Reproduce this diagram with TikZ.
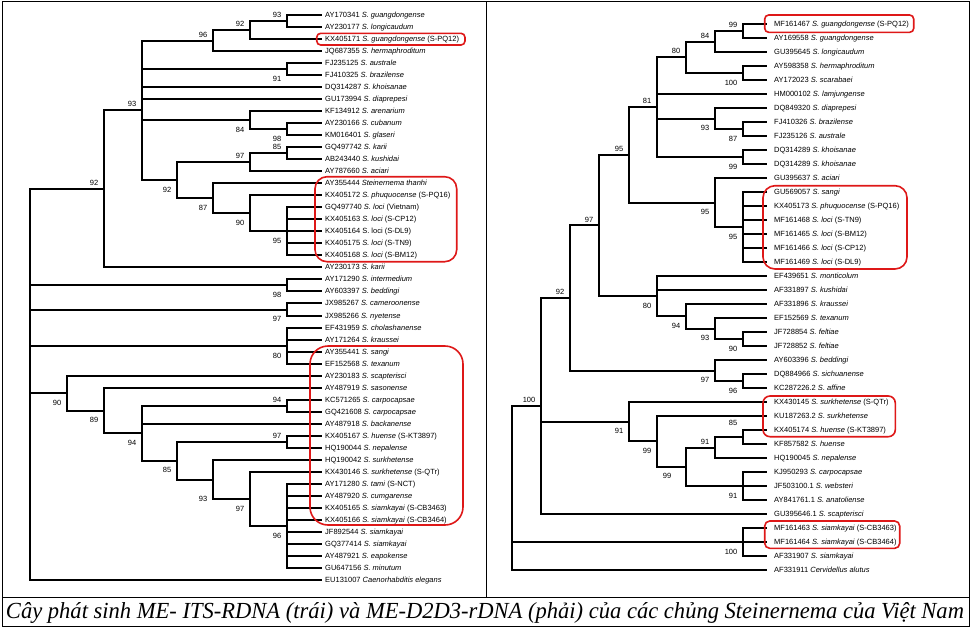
\documentclass[tikz,border=0pt]{standalone}
\usepackage{fontspec}
\setmainfont{Liberation Sans}
\newfontfamily\capfont{Liberation Serif}
\usepackage{graphicx}
\definecolor{hlred}{RGB}{222,24,24}
\begin{document}
\begin{tikzpicture}[x=1pt,y=-1pt]
\tikzset{
  br/.style={line width=2pt},
  tiplab/.style={anchor=base west, inner sep=0pt, font=\fontsize{7.5}{8}\selectfont, yshift=-2.7pt},
  bsa/.style={anchor=south east, inner sep=0pt, font=\fontsize{7.5}{8}\selectfont, xshift=-5.5pt, yshift=3pt},
  bsb/.style={anchor=north east, inner sep=0pt, font=\fontsize{7.5}{8}\selectfont, xshift=-5.5pt, yshift=-6.8pt},
  hl/.style={draw=hlred, line width=1.6pt, rounded corners=#1},
  hl/.default=5pt,
  framel/.style={line width=0.8pt}
}
\useasboundingbox (0,0) rectangle (973,630);
% frame
\draw[framel] (2.5,1.5) rectangle (969.5,626.5);
\draw[framel] (486.5,1.5) -- (486.5,597);
\draw[framel] (2.5,597) -- (969.5,597);

%% ---------------- LEFT TREE ----------------
\foreach \i in {1,...,48} \coordinate (L\i) at (322,{round(15+(\i-1)*12.02)});
\coordinate (LR) at (30,384.3);
\coordinate (LA) at (104,188.6);
\coordinate (LB) at (142,110.25);
\coordinate (LC) at (213,40.5);
\coordinate (LD) at (250,30);
\coordinate (LE) at (287,21);
\coordinate (LF) at (287,69);
\coordinate (LG) at (250,120);
\coordinate (LH) at (287,129);
\coordinate (LI) at (177,180);
\coordinate (LJ) at (250,162);
\coordinate (LK) at (287,153);
\coordinate (LL) at (213,198);
\coordinate (LM) at (250,213);
\coordinate (LN) at (287,231);
\coordinate (LO) at (287,285);
\coordinate (LP) at (287,309.5);
\coordinate (LQ) at (287,346);
\coordinate (LS) at (67,393.35);
\coordinate (LT) at (104,410.7);
\coordinate (LU) at (142,433.4);
\coordinate (LV) at (287,406);
\coordinate (LW) at (177,460.75);
\coordinate (LX) at (287,442);
\coordinate (LY) at (213,479.5);
\coordinate (LZ) at (250,499);
\coordinate (LZZ) at (287,526);
\foreach \p/\c in {LR/LA,LR/LO,LR/LP,LR/LQ,LR/LS,LR/L48,
  LA/LB,LA/L22,
  LB/LC,LB/LF,LB/L7,LB/L8,LB/LG,LB/LI,
  LC/LD,LC/L4,LD/LE,LD/L3,LE/L1,LE/L2,LF/L5,LF/L6,
  LG/L9,LG/LH,LH/L10,LH/L11,
  LI/LJ,LI/LL,LJ/LK,LJ/L14,LK/L12,LK/L13,
  LL/L15,LL/LM,LM/L16,LM/LN,LN/L17,LN/L18,LN/L19,LN/L20,LN/L21,
  LO/L23,LO/L24,LP/L25,LP/L26,LQ/L27,LQ/L28,LQ/L29,LQ/L30,
  LS/L31,LS/LT,LT/L32,LT/LU,LU/LV,LU/L35,LU/LW,LV/L33,LV/L34,
  LW/LX,LW/LY,LX/L36,LX/L37,LY/L38,LY/LZ,LZ/L39,LZ/LZZ,
  LZZ/L40,LZZ/L41,LZZ/L42,LZZ/L43,LZZ/L44,LZZ/L45,LZZ/L46,LZZ/L47}
  \draw[br] (\p) |- (\c);
\foreach \i/\t in {
 1/{AY170341 \textit{S. guangdongense}},
 2/{AY230177 \textit{S. longicaudum}},
 3/{KX405171 \textit{S. guangdongense} (S-PQ12)},
 4/{JQ687355 \textit{S. hermaphroditum}},
 5/{FJ235125 \textit{S. australe}},
 6/{FJ410325 \textit{S. brazilense}},
 7/{DQ314287 \textit{S. khoisanae}},
 8/{GU173994 \textit{S. diaprepesi}},
 9/{KF134912 \textit{S. arenarium}},
 10/{AY230166 \textit{S. cubanum}},
 11/{KM016401 \textit{S. glaseri}},
 12/{GQ497742 \textit{S. karii}},
 13/{AB243440 \textit{S. kushidai}},
 14/{AY787660 \textit{S. aciari}},
 15/{AY355444 \textit{Steinernema thanhi}},
 16/{KX405172 \textit{S. phuquocense} (S-PQ16)},
 17/{GQ497740 \textit{S. loci} (Vietnam)},
 18/{KX405163 \textit{S. loci} (S-CP12)},
 19/{KX405164 S. loci (S-DL9)},
 20/{KX405175 \textit{S. loci} (S-TN9)},
 21/{KX405168 \textit{S. loci} (S-BM12)},
 22/{AY230173 \textit{S. karii}},
 23/{AY171290 \textit{S. intermedium}},
 24/{AY603397 \textit{S. beddingi}},
 25/{JX985267 \textit{S. cameroonense}},
 26/{JX985266 \textit{S. nyetense}},
 27/{EF431959 \textit{S. cholashanense}},
 28/{AY171264 \textit{S. kraussei}},
 29/{AY355441 \textit{S. sangi}},
 30/{EF152568 \textit{S. texanum}},
 31/{AY230183 \textit{S. scapterisci}},
 32/{AY487919 \textit{S. sasonense}},
 33/{KC571265 \textit{S. carpocapsae}},
 34/{GQ421608 \textit{S. carpocapsae}},
 35/{AY487918 \textit{S. backanense}},
 36/{KX405167 \textit{S. huense} (S-KT3897)},
 37/{HQ190044 \textit{S. nepalense}},
 38/{HQ190042 \textit{S. surkhetense}},
 39/{KX430146 \textit{S. surkhetense} (S-QTr)},
 40/{AY171280 \textit{S. tami} (S-NCT)},
 41/{AY487920 \textit{S. cumgarense}},
 42/{KX405165 \textit{S. siamkayai} (S-CB3463)},
 43/{KX405166 \textit{S. siamkayai} (S-CB3464)},
 44/{JF892544 \textit{S. siamkayai}},
 45/{GQ377414 \textit{S. siamkayai}},
 46/{AY487921 \textit{S. eapokense}},
 47/{GU647156 \textit{S. minutum}},
 48/{EU131007 \textit{Caenorhabditis elegans}}}
  \node[tiplab, xshift=3pt] (lt\i) at (L\i) {\t};
\foreach \n/\v in {LE/93,LD/92,LC/96,LB/93,LK/85,LJ/97,LA/92,LV/94,LX/97}
  \node[bsa] (bs\n) at (\n) {\v};
\foreach \n/\v in {LF/91,LG/84,LH/98,LI/92,LL/87,LM/90,LN/95,LO/98,LP/97,LQ/80,LS/90,LT/89,LU/94,LW/85,LZ/97,LZZ/96}
  \node[bsb] (bs\n) at (\n) {\v};
\node[bsb, yshift=-10pt] (bsLY) at (LY) {93};
% highlight boxes left
\draw[hl=4pt] (316.7,33.3) rectangle (465,45);
\draw[hl=12pt] (315,176.7) rectangle (456.7,261.7);
\draw[hl=18pt] (310,346) rectangle (463,525);

%% ---------------- RIGHT TREE ----------------
\foreach \i in {1,...,40} \coordinate (R\i) at (767,{24+(\i-1)*14});
\coordinate (RR) at (512,488);
\coordinate (RA) at (541,406);
\coordinate (RC) at (570,297.98);
\coordinate (RE) at (599,225.47);
\coordinate (RG) at (629,154.8);
\coordinate (RI) at (657,107.13);
\coordinate (RK) at (686,57.25);
\coordinate (RN) at (715,41.5);
\coordinate (RP) at (743,31);
\coordinate (RO) at (743,73);
\coordinate (RL) at (715,118.5);
\coordinate (RQ) at (743,129);
\coordinate (RM) at (743,157);
\coordinate (RJ) at (715,202.5);
\coordinate (RS) at (743,227);
\coordinate (RH) at (657,296.13);
\coordinate (RT) at (686,316.25);
\coordinate (RU) at (715,328.5);
\coordinate (RV) at (743,339);
\coordinate (RF) at (715,370.5);
\coordinate (RW) at (743,381);
\coordinate (RD) at (629,421.69);
\coordinate (RX) at (657,441.38);
\coordinate (RY) at (686,466.75);
\coordinate (RZ) at (715,447.5);
\coordinate (RZa) at (743,437);
\coordinate (RZZ) at (743,486);
\coordinate (RB) at (743,542);
\foreach \p/\c in {RR/RA,RR/RB,RR/R40,
  RA/RC,RA/RD,RA/R36,
  RC/RE,RC/RF,
  RE/RG,RE/RH,
  RG/RI,RG/RJ,
  RI/RK,RI/R6,RI/RL,RI/RM,
  RK/RN,RK/RO,RN/RP,RN/R3,RP/R1,RP/R2,RO/R4,RO/R5,
  RL/R7,RL/RQ,RQ/R8,RQ/R9,RM/R10,RM/R11,
  RJ/R12,RJ/RS,RS/R13,RS/R14,RS/R15,RS/R16,RS/R17,RS/R18,
  RH/R19,RH/R20,RH/RT,RT/R21,RT/RU,RU/R22,RU/RV,RV/R23,RV/R24,
  RF/R25,RF/RW,RW/R26,RW/R27,
  RD/R28,RD/RX,RX/R29,RX/RY,RY/RZ,RY/RZZ,RZ/RZa,RZ/R32,RZa/R30,RZa/R31,
  RZZ/R33,RZZ/R34,RZZ/R35,
  RB/R37,RB/R38,RB/R39}
  \draw[br] (\p) |- (\c);
\foreach \i/\t in {
 1/{MF161467 \textit{S. guangdongense} (S-PQ12)},
 2/{AY169558 \textit{S. guangdongense}},
 3/{GU395645 \textit{S. longicaudum}},
 4/{AY598358 \textit{S. hermaphroditum}},
 5/{AY172023 \textit{S. scarabaei}},
 6/{HM000102 \textit{S. lamjungense}},
 7/{DQ849320 \textit{S. diaprepesi}},
 8/{FJ410326 \textit{S. brazilense}},
 9/{FJ235126 \textit{S. australe}},
 10/{DQ314289 \textit{S. khoisanae}},
 11/{DQ314289 \textit{S. khoisanae}},
 12/{GU395637 \textit{S. aciari}},
 13/{GU569057 \textit{S. sangi}},
 14/{KX405173 \textit{S. phuquocense} (S-PQ16)},
 15/{MF161468 \textit{S. loci} (S-TN9)},
 16/{MF161465 \textit{S. loci} (S-BM12)},
 17/{MF161466 \textit{S. loci} (S-CP12)},
 18/{MF161469 \textit{S. loci} (S-DL9)},
 19/{EF439651 \textit{S. monticolum}},
 20/{AF331897 \textit{S. kushidai}},
 21/{AF331896 \textit{S. kraussei}},
 22/{EF152569 \textit{S. texanum}},
 23/{JF728854 \textit{S. feltiae}},
 24/{JF728852 \textit{S. feltiae}},
 25/{AY603396 \textit{S. beddingi}},
 26/{DQ884966 \textit{S. sichuanense}},
 27/{KC287226.2 \textit{S. affine}},
 28/{KX430145 \textit{S. surkhetense} (S-QTr)},
 29/{KU187263.2 \textit{S. surkhetense}},
 30/{KX405174 \textit{S. huense} (S-KT3897)},
 31/{KF857582 \textit{S. huense}},
 32/{HQ190045 \textit{S. nepalense}},
 33/{KJ950293 \textit{S. carpocapsae}},
 34/{JF503100.1 \textit{S. websteri}},
 35/{AY841761.1 \textit{S. anatoliense}},
 36/{GU395646.1 \textit{S. scapterisci}},
 37/{MF161463 \textit{S. siamkayai} (S-CB3463)},
 38/{MF161464 \textit{S. siamkayai} (S-CB3464)},
 39/{AF331907 \textit{S. siamkayai}},
 40/{AF331911 \textit{Cervidellus alutus}}}
  \node[tiplab, xshift=7pt] (rt\i) at (R\i) {\t};
\foreach \n/\v in {RP/99,RN/84,RK/80,RI/81,RG/95,RE/97,RC/92,RA/100,RZ/91}
  \node[bsa] (bs\n) at (\n) {\v};
\foreach \n/\v in {RO/100,RL/93,RQ/87,RM/99,RJ/95,RS/95,RH/80,RT/94,RU/93,RV/90,RF/97,RW/96,RD/91,RX/99,RZZ/91,RB/100}
  \node[bsb] (bs\n) at (\n) {\v};
\node[bsb, xshift=-9pt] (bsRY) at (RY) {99};
\node[bsa, yshift=8.5pt] (bsRZa) at (RZa) {85};
% highlight boxes right
\draw[hl=4pt] (764.7,15) rectangle (913.7,32.3);
\draw[hl=12pt] (763,185.7) rectangle (907,269);
\draw[hl=7pt] (763,396) rectangle (895.3,436.7);
\draw[hl=5pt] (764.7,521) rectangle (899.7,548.3);

%% ---------------- CAPTION ----------------
\node[anchor=base, inner sep=0pt] (cap) at (485,618.5)
  {\resizebox{958pt}{\height}{\capfont\itshape\fontsize{23}{26}\selectfont C\^ay phát sinh ME- ITS-RDNA (trái) và ME-D2D3-rDNA (phải) của các chủng Steinernema của Việt Nam}};
\end{tikzpicture}
\end{document}
